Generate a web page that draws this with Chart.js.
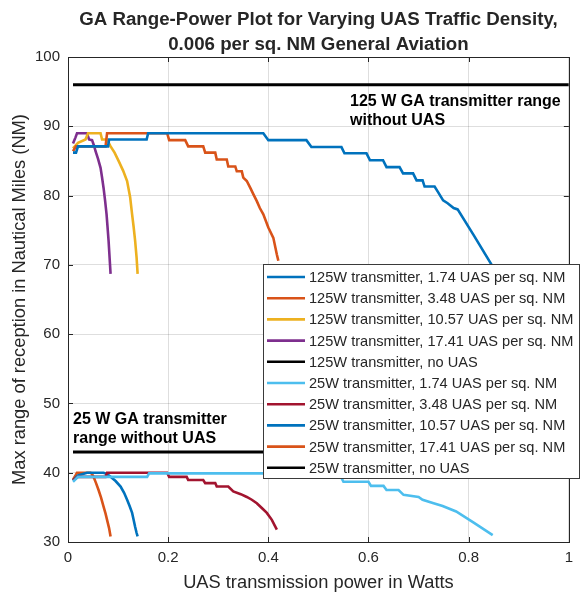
<!DOCTYPE html>
<html>
<head>
<meta charset="utf-8">
<script src="https://cdn.jsdelivr.net/npm/chart.js@4.4.1/dist/chart.umd.min.js"></script>
<style>
html,body{margin:0;padding:0;background:#fff;}
#wrap{width:580px;height:600px;}
</style>
</head>
<body>
<div id="wrap"><canvas id="c" width="580" height="600"></canvas></div>
<script>
// ---- Data (x = UAS transmission power in W, y = max range in NM) ----
const titleLines = ["GA Range-Power Plot for Varying UAS Traffic Density,", "0.006 per sq. NM General Aviation"];
const xTicks = [0, 0.2, 0.4, 0.6, 0.8, 1];
const yTicks = [30, 40, 50, 60, 70, 80, 90, 100];

const seriesLabels = [
  "125W transmitter, 1.74 UAS per sq. NM",
  "125W transmitter, 3.48 UAS per sq. NM",
  "125W transmitter, 10.57 UAS per sq. NM",
  "125W transmitter, 17.41 UAS per sq. NM",
  "125W transmitter, no UAS",
  "25W transmitter, 1.74 UAS per sq. NM",
  "25W transmitter, 3.48 UAS per sq. NM",
  "25W transmitter, 10.57 UAS per sq. NM",
  "25W transmitter, 17.41 UAS per sq. NM",
  "25W transmitter, no UAS"
];
const seriesColors = ["#0072BD","#D95319","#EDB120","#7E2F8E","#000000","#4DBEEE","#A2142F","#0072BD","#D95319","#000000"];

const s125_174 = [[0.01,86.2],[0.016,86.2],[0.02,87.1],[0.08,87.1],[0.082,88.1],[0.157,88.1],[0.16,89.0],[0.39,89.0],[0.40,88.0],[0.476,88.0],[0.486,87.0],[0.546,87.0],[0.552,86.1],[0.596,86.1],[0.603,85.1],[0.629,85.1],[0.636,84.1],[0.662,84.1],[0.669,83.2],[0.689,83.2],[0.696,82.2],[0.708,82.2],[0.712,81.3],[0.732,81.3],[0.738,80.6],[0.749,79.3],[0.758,78.9],[0.770,78.2],[0.778,78.0],[0.81,74.3],[0.845,70.1],[0.855,68.7]];
const s125_348 = [[0.01,86.4],[0.016,87.1],[0.075,87.1],[0.078,89.0],[0.198,89.0],[0.202,88.0],[0.234,88.0],[0.24,87.1],[0.27,87.1],[0.274,86.2],[0.294,86.2],[0.297,85.2],[0.317,85.2],[0.320,84.2],[0.334,84.2],[0.337,83.5],[0.347,83.5],[0.350,82.6],[0.357,82.1],[0.364,81.1],[0.370,80.2],[0.377,79.2],[0.383,78.2],[0.39,77.3],[0.40,75.4],[0.41,73.9],[0.417,71.5],[0.42,70.6]];
const s125_1057 = [[0.01,86.8],[0.02,87.6],[0.035,88.1],[0.04,89.0],[0.065,89.0],[0.068,88.1],[0.078,88.1],[0.085,87.1],[0.093,86.2],[0.101,85.0],[0.11,83.6],[0.118,82.1],[0.124,79.8],[0.128,77.3],[0.131,75.5],[0.134,73.5],[0.137,71.0],[0.139,68.7]];
const s125_1741 = [[0.01,87.5],[0.015,88.4],[0.018,89.0],[0.038,89.0],[0.042,88.1],[0.048,88.0],[0.052,87.2],[0.055,86.4],[0.06,85.3],[0.065,84.0],[0.068,82.6],[0.071,81.1],[0.074,79.3],[0.077,77.3],[0.079,75.4],[0.081,73.5],[0.083,71.1],[0.085,68.7]];
const s125_none = [[0.01,96.0],[1.0,96.0]];
const s25_174 = [[0.01,38.7],[0.02,39.4],[0.158,39.4],[0.162,39.9],[0.46,39.9],[0.47,39.4],[0.545,39.4],[0.55,38.7],[0.6,38.7],[0.605,38.1],[0.63,38.1],[0.636,37.5],[0.66,37.5],[0.67,36.8],[0.7,36.5],[0.708,36.1],[0.73,35.6],[0.748,35.2],[0.775,34.4],[0.81,32.8],[0.848,31.0]];
const s25_348 = [[0.01,38.9],[0.02,39.4],[0.075,39.4],[0.078,40.0],[0.198,40.0],[0.202,39.4],[0.237,39.4],[0.24,38.95],[0.27,38.95],[0.274,38.5],[0.294,38.5],[0.297,38.0],[0.32,38.0],[0.33,37.3],[0.345,36.9],[0.357,36.5],[0.367,36.1],[0.377,35.6],[0.387,34.9],[0.397,34.2],[0.407,33.2],[0.417,31.8]];
const s25_1057 = [[0.01,38.9],[0.02,39.6],[0.038,40.0],[0.071,40.0],[0.078,39.8],[0.085,39.4],[0.095,38.8],[0.105,38.0],[0.112,37.1],[0.118,36.1],[0.123,35.2],[0.128,34.2],[0.131,33.2],[0.134,32.2],[0.137,31.3],[0.139,30.8]];
const s25_1741 = [[0.01,39.0],[0.015,39.6],[0.018,40.0],[0.045,40.0],[0.048,39.8],[0.051,39.4],[0.056,38.5],[0.061,37.5],[0.066,36.4],[0.071,35.1],[0.075,34.1],[0.078,33.2],[0.082,32.0],[0.085,30.8]];
const s25_none = [[0.01,43.0],[1.0,43.0]];

const seriesData = [s125_174, s125_348, s125_1057, s125_1741, s125_none, s25_174, s25_348, s25_1057, s25_1741, s25_none];

const annot125 = ["125 W GA transmitter range", "without UAS"];
const annot25 = ["25 W GA transmitter", "range without UAS"];

// ---- Build chart ----
const FONT = "'Liberation Sans', Arial, Helvetica, sans-serif";
const TXT = "#262626";

const datasets = seriesData.map((d, i) => ({
  label: seriesLabels[i],
  data: d.map(p => ({x: p[0], y: p[1]})),
  borderColor: seriesColors[i],
  backgroundColor: seriesColors[i],
  borderWidth: (i === 4 || i === 9) ? 3 : 2.6,
  pointRadius: 0,
  tension: 0,
  fill: false
}));

const extras = {
  id: 'extras',
  afterDatasetsDraw(chart) {
    const {ctx, chartArea: a, scales: {x, y}} = chart;
    ctx.save();
    // frame
    ctx.strokeStyle = TXT;
    ctx.lineWidth = 1;
    ctx.strokeRect(Math.round(a.left) + 0.5, Math.round(a.top) + 0.5, Math.round(a.right - a.left), Math.round(a.bottom - a.top));
    // inward tick marks
    ctx.beginPath();
    xTicks.forEach(v => {
      const px = Math.round(x.getPixelForValue(v)) + 0.5;
      ctx.moveTo(px, a.bottom); ctx.lineTo(px, a.bottom - 5);
      ctx.moveTo(px, a.top); ctx.lineTo(px, a.top + 5);
    });
    yTicks.forEach(v => {
      const py = Math.round(y.getPixelForValue(v)) + 0.5;
      ctx.moveTo(a.left, py); ctx.lineTo(a.left + 5, py);
      ctx.moveTo(a.right, py); ctx.lineTo(a.right - 5, py);
    });
    ctx.stroke();

    // annotations
    ctx.fillStyle = "#000";
    ctx.font = "bold 16px " + FONT;
    ctx.textAlign = "left";
    ctx.textBaseline = "alphabetic";
    ctx.fillText(annot125[0], 350, 106);
    ctx.fillText(annot125[1], 350, 125);
    ctx.fillText(annot25[0], 73, 424);
    ctx.fillText(annot25[1], 73, 443);

    // legend
    const L = 263, T = 264, R = 579, B = 478;
    ctx.fillStyle = "#fff";
    ctx.fillRect(L, T, R - L, B - T);
    ctx.strokeStyle = "#3a3a3a";
    ctx.lineWidth = 1;
    ctx.strokeRect(L + 0.5, T + 0.5, R - L, B - T);
    ctx.font = "14.6px " + FONT;
    ctx.textBaseline = "middle";
    seriesLabels.forEach((lab, i) => {
      const cy = 277 + i * 21.2;
      ctx.strokeStyle = seriesColors[i];
      ctx.lineWidth = 2.6;
      ctx.beginPath();
      ctx.moveTo(267, cy); ctx.lineTo(305, cy);
      ctx.stroke();
      ctx.fillStyle = TXT;
      ctx.fillText(lab, 309, cy + 1);
    });

    // title
    ctx.fillStyle = TXT;
    ctx.font = "bold 18.7px " + FONT;
    ctx.textAlign = "center";
    ctx.textBaseline = "middle";
    const cx = (a.left + a.right) / 2;
    ctx.fillText(titleLines[0], cx, 20);
    ctx.fillText(titleLines[1], cx, 45);
    ctx.restore();
  }
};

new Chart(document.getElementById('c'), {
  type: 'line',
  data: { datasets },
  options: {
    responsive: false,
    animation: false,
    devicePixelRatio: 1,
    layout: { padding: { top: 57, right: 10, left: 0, bottom: 0 } },
    plugins: { legend: { display: false }, title: { display: false }, tooltip: { enabled: false } },
    scales: {
      x: {
        type: 'linear', min: 0, max: 1,
        afterBuildTicks: s => { s.ticks = xTicks.map(v => ({value: v})); },
        ticks: { color: TXT, font: { family: FONT, size: 15 }, padding: 7, maxRotation: 0,
                 callback: v => String(v) },
        grid: { color: "rgba(0,0,0,0.13)", drawTicks: false },
        border: { display: false },
        title: { display: true, text: "UAS transmission power in Watts", color: TXT,
                 font: { family: FONT, size: 18.3 }, padding: { top: 0, bottom: 6 } },
        afterFit: s => { s.height = 58; }
      },
      y: {
        type: 'linear', min: 30, max: 100,
        afterBuildTicks: s => { s.ticks = yTicks.map(v => ({value: v})); },
        ticks: { color: TXT, font: { family: FONT, size: 15 }, padding: 8,
                 callback: v => String(v) },
        grid: { color: "rgba(0,0,0,0.13)", drawTicks: false },
        border: { display: false },
        title: { display: true, text: "Max range of reception in Nautical Miles (NM)", color: TXT,
                 font: { family: FONT, size: 18.3 }, padding: { top: 9, bottom: 0 } },
        afterFit: s => { s.width = 68; }
      }
    }
  },
  plugins: [extras]
});
</script>
</body>
</html>
